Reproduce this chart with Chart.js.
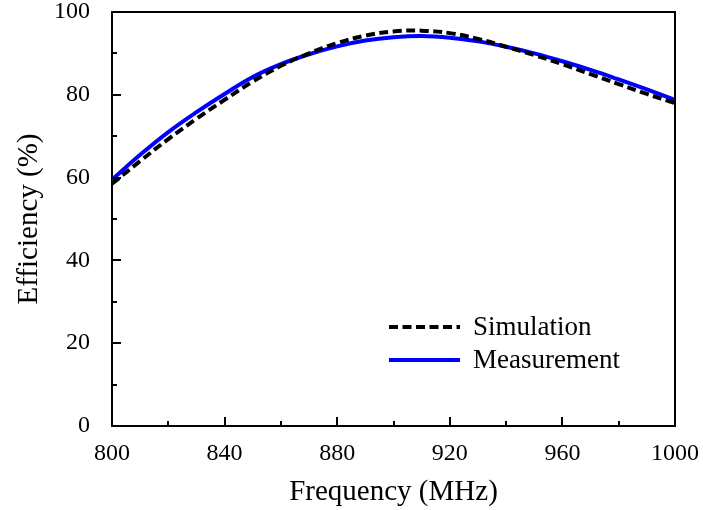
<!DOCTYPE html>
<html>
<head>
<meta charset="utf-8">
<script src="https://cdn.jsdelivr.net/npm/chart.js@4.4.1/dist/chart.umd.min.js"></script>
<style>
  html, body { margin: 0; padding: 0; background: #fff; }
  #wrap { width: 703px; height: 510px; }
</style>
</head>
<body>
<div id="wrap"><canvas id="chart" width="703" height="510"></canvas></div>
<script>
const frequency = [800, 810, 820, 830, 840, 850, 860, 870, 880, 890, 900,
  910, 920, 930, 940, 950, 960, 970, 980, 990, 1000];

const simulation = [58.5, 64.0, 69.3, 74.2, 78.8, 83.2, 87.0, 90.0, 92.5, 94.3, 95.3,
  95.5, 94.9, 93.5, 91.6, 89.6, 87.4, 85.0, 82.6, 80.2, 78.0];

const measurement = [59.5, 65.5, 71.0, 75.8, 80.2, 84.3, 87.4, 89.8, 91.7, 93.1, 93.9,
  94.2, 93.8, 92.9, 91.6, 90.0, 88.1, 86.0, 83.7, 81.3, 78.8];

const xLabels = [800, 840, 880, 920, 960, 1000];
const yLabels = [0, 20, 40, 60, 80, 100];

const FONT = "'Liberation Serif', 'Times New Roman', serif";

function toPoints(values) {
  return frequency.map((f, i) => ({ x: f, y: values[i] }));
}

// inward ticks, top/right frame and the legend inside the plot
const framePlugin = {
  id: "frame",
  afterDraw(chart) {
    const { ctx, chartArea: a, scales } = chart;
    ctx.save();
    ctx.strokeStyle = "#000";
    ctx.lineWidth = 2;

    scales.x.ticks.forEach(t => {
      const px = Math.round(scales.x.getPixelForValue(t.value));
      const len = xLabels.includes(t.value) ? 9 : 5;
      ctx.beginPath();
      ctx.moveTo(px, a.bottom);
      ctx.lineTo(px, a.bottom - len);
      ctx.stroke();
    });
    scales.y.ticks.forEach(t => {
      const py = Math.round(scales.y.getPixelForValue(t.value));
      const len = yLabels.includes(t.value) ? 9 : 5;
      ctx.beginPath();
      ctx.moveTo(a.left, py);
      ctx.lineTo(a.left + len, py);
      ctx.stroke();
    });

    ctx.beginPath();
    ctx.moveTo(a.left, a.top);
    ctx.lineTo(a.right, a.top);
    ctx.lineTo(a.right, a.bottom);
    ctx.stroke();

    // legend
    const lx = 389, lw = 71;
    const rows = [327, 360];
    ctx.font = "27px " + FONT;
    ctx.textBaseline = "middle";
    ctx.fillStyle = "#000";
    chart.data.datasets.forEach((ds, i) => {
      ctx.strokeStyle = ds.borderColor;
      ctx.lineWidth = ds.borderWidth;
      ctx.setLineDash(ds.borderDash || []);
      ctx.beginPath();
      ctx.moveTo(lx, rows[i]);
      ctx.lineTo(lx + lw, rows[i]);
      ctx.stroke();
      ctx.setLineDash([]);
      ctx.fillText(ds.label, lx + lw + 13, rows[i] + 1);
    });
    ctx.restore();
  }
};

new Chart(document.getElementById("chart"), {
  type: "line",
  data: {
    datasets: [
      {
        label: "Simulation",
        data: toPoints(simulation),
        borderColor: "#000",
        borderWidth: 4,
        borderDash: [9, 4.5],
        pointRadius: 0,
        tension: 0.4,
        fill: false
      },
      {
        label: "Measurement",
        data: toPoints(measurement),
        borderColor: "#0000ff",
        borderWidth: 4,
        pointRadius: 0,
        tension: 0.4,
        fill: false
      }
    ]
  },
  options: {
    responsive: false,
    animation: false,
    layout: { padding: { top: 12, right: 28, left: 0, bottom: 0 } },
    plugins: {
      legend: { display: false },
      tooltip: { enabled: false }
    },
    scales: {
      x: {
        type: "linear",
        min: 800,
        max: 1000,
        afterFit: s => {
          s.height = 84;
          s.paddingLeft = 0;
          s.paddingRight = 0;
        },
        ticks: {
          stepSize: 20,
          padding: 13,
          color: "#000",
          font: { family: FONT, size: 24 },
          maxRotation: 0,
          autoSkip: false,
          callback: v => xLabels.includes(v) ? String(v) : ""
        },
        grid: { drawOnChartArea: false, drawTicks: false },
        border: { display: true, color: "#000", width: 2 },
        title: {
          display: true,
          text: "Frequency (MHz)",
          color: "#000",
          font: { family: FONT, size: 29 },
          padding: { top: 0, bottom: 0 }
        }
      },
      y: {
        min: 0,
        max: 100,
        afterFit: s => {
          s.width = 112;
          s.paddingTop = 0;
          s.paddingBottom = 0;
        },
        ticks: {
          stepSize: 10,
          padding: 22,
          color: "#000",
          font: { family: FONT, size: 24 },
          autoSkip: false,
          callback: v => yLabels.includes(v) ? String(v) : ""
        },
        grid: { drawOnChartArea: false, drawTicks: false },
        border: { display: true, color: "#000", width: 2 },
        title: {
          display: true,
          text: "Efficiency (%)",
          color: "#000",
          font: { family: FONT, size: 29 },
          padding: { top: 12, bottom: 12 }
        }
      }
    }
  },
  plugins: [framePlugin]
});
</script>
</body>
</html>
